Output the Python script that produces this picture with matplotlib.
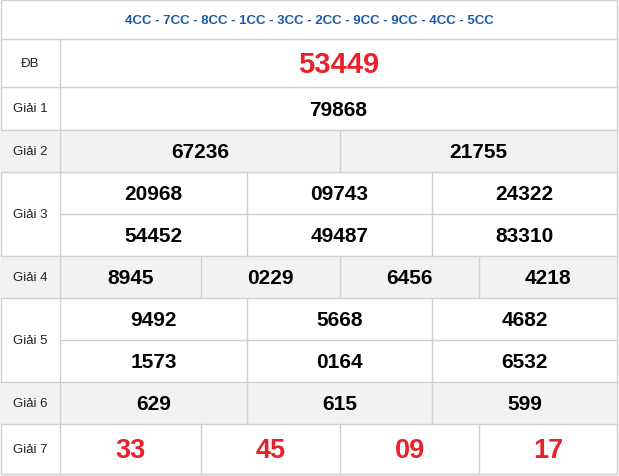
import matplotlib
matplotlib.use('Agg')
import matplotlib.pyplot as plt
from matplotlib.patches import Rectangle

header = '4CC - 7CC - 8CC - 1CC - 3CC - 2CC - 9CC - 9CC - 4CC - 5CC'
prize_names = ['ĐB', 'Giải 1', 'Giải 2', 'Giải 3', 'Giải 4', 'Giải 5', 'Giải 6', 'Giải 7']
prizes = [
    [['53449']],
    [['79868']],
    [['67236', '21755']],
    [['20968', '09743', '24322'], ['54452', '49487', '83310']],
    [['8945', '0229', '6456', '4218']],
    [['9492', '5668', '4682'], ['1573', '0164', '6532']],
    [['629', '615', '599']],
    [['33', '45', '09', '17']],
]

W, H = 619, 477
row_edges = [40, 88, 131, 173, 257, 299, 383, 425, 475]
col_x = {1: [60, 617], 2: [60, 340, 617], 3: [60, 247, 432, 617], 4: [60, 201, 340, 479, 617]}
GRID = '#d0d0d0'
GRAY = '#f2f2f2'
RED = '#e8222a'

fig = plt.figure(figsize=(W / 100, H / 100), dpi=100)
ax = fig.add_axes([0, 0, 1, 1])
ax.set_xlim(0, W)
ax.set_ylim(H, 0)
ax.axis('off')

ax.add_patch(Rectangle((1, 1), 616, 474, facecolor='white', edgecolor=GRID, lw=1))
ax.text(309, 21, header, ha='center', va='center', fontsize=9.5, fontweight='bold',
        color='#1c5aa8', family='Liberation Sans')
ax.plot([1, 617], [40, 40], color=GRID, lw=1)

for i, (name, rows) in enumerate(zip(prize_names, prizes)):
    y0, y1 = row_edges[i], row_edges[i + 1]
    if i in (2, 4, 6):
        ax.add_patch(Rectangle((1, y0), 616, y1 - y0, facecolor=GRAY, edgecolor='none'))
    ax.plot([1, 617], [y1, y1], color=GRID, lw=1)
    ax.plot([60, 60], [y0, y1], color=GRID, lw=1)
    ax.text(30, (y0 + y1) / 2, name, ha='center', va='center', fontsize=9.5,
            color='#222222', family='Liberation Sans')
    sub_h = (y1 - y0) / len(rows)
    for r, vals in enumerate(rows):
        xs = col_x[len(vals)]
        ys = y0 + r * sub_h
        if r > 0:
            ax.plot([60, 617], [ys, ys], color=GRID, lw=1)
        for k, v in enumerate(vals):
            if k > 0:
                ax.plot([xs[k], xs[k]], [ys, ys + sub_h], color=GRID, lw=1)
            if i == 0:
                fs, col = 21, RED
            elif i == 7:
                fs, col = 19.5, RED
            else:
                fs, col = 15, 'black'
            ax.text((xs[k] + xs[k + 1]) / 2, ys + sub_h / 2 + 1, v, ha='center', va='center',
                    fontsize=fs, fontweight='bold', color=col, family='Liberation Sans')

fig.savefig('out.png', dpi=100, facecolor='white')
